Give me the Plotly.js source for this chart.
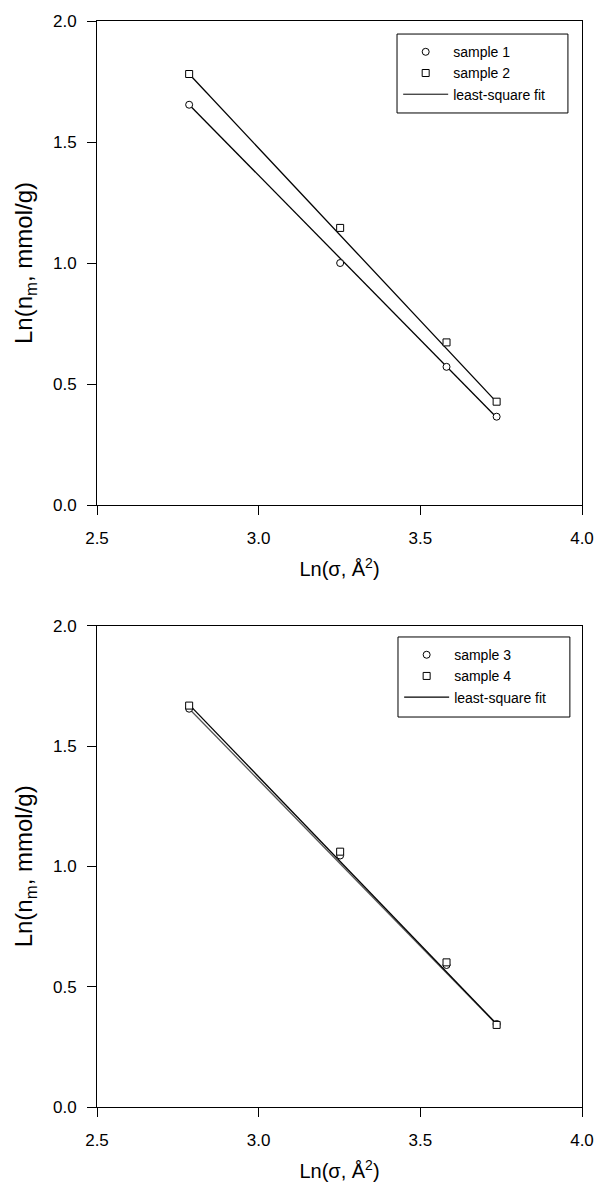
<!DOCTYPE html>
<html>
<head>
<meta charset="utf-8">
<script src="https://cdn.plot.ly/plotly-3.0.1.min.js"></script>
<style>html,body{margin:0;padding:0;background:#fff;}#chart{width:597px;height:1186px;}</style>
</head>
<body>
<div id="chart"></div>
<script>
// x values: Ln(sigma, Å^2)
const xVals = [2.785, 3.252, 3.581, 3.736];
// top panel
const sample1 = [1.654, 1.000, 0.571, 0.365];
const sample2 = [1.781, 1.145, 0.672, 0.427];
// bottom panel
const sample3 = [1.655, 1.045, 0.590, 0.345];
const sample4 = [1.668, 1.061, 0.601, 0.341];
// least-square fit line end points
const fitX = [2.785, 3.736];
const fit1 = [1.654, 0.362];
const fit2 = [1.781, 0.425];
const fit3 = [1.655, 0.343];
const fit4 = [1.672, 0.345];
const yTicks = [0.0, 0.5, 1.0, 1.5, 2.0];
const xTicks = [2.5, 3.0, 3.5, 4.0];

const fam = 'Liberation Sans, Arial, sans-serif';
const mk = (sym) => ({symbol: sym, size: 7, color: '#fff', line: {color: '#000', width: 1}});
const ln = {color: '#000', width: 1.3};

const traces = [
  {x: fitX, y: fit1, mode: 'lines', line: ln, showlegend: false, xaxis: 'x', yaxis: 'y', legend: 'legend'},
  {x: fitX, y: fit2, mode: 'lines', line: ln, showlegend: false, xaxis: 'x', yaxis: 'y', legend: 'legend'},
  {x: xVals, y: sample1, mode: 'markers', marker: mk('circle'), name: 'sample 1', xaxis: 'x', yaxis: 'y', legend: 'legend', legendrank: 1},
  {x: xVals, y: sample2, mode: 'markers', marker: mk('square'), name: 'sample 2', xaxis: 'x', yaxis: 'y', legend: 'legend', legendrank: 2},
  {x: [null], y: [null], mode: 'lines', line: {color: '#000', width: 1}, name: 'least-square fit', xaxis: 'x', yaxis: 'y', legend: 'legend', legendrank: 3},

  {x: fitX, y: fit3, mode: 'lines', line: {color: '#555', width: 1.3}, showlegend: false, xaxis: 'x2', yaxis: 'y2', legend: 'legend2'},
  {x: fitX, y: fit4, mode: 'lines', line: ln, showlegend: false, xaxis: 'x2', yaxis: 'y2', legend: 'legend2'},
  {x: xVals, y: sample3, mode: 'markers', marker: mk('circle'), name: 'sample 3', xaxis: 'x2', yaxis: 'y2', legend: 'legend2', legendrank: 1},
  {x: xVals, y: sample4, mode: 'markers', marker: mk('square'), name: 'sample 4', xaxis: 'x2', yaxis: 'y2', legend: 'legend2', legendrank: 2},
  {x: [null], y: [null], mode: 'lines', line: ln, name: 'least-square fit', xaxis: 'x2', yaxis: 'y2', legend: 'legend2', legendrank: 3}
];

const xAxisBase = {
  range: [2.5, 4.0], tickvals: xTicks, tickformat: '.1f', ticks: 'outside', ticklen: 9, tickwidth: 1, tickcolor: '#000',
  ticklabelstandoff: 9,
  showline: true, linecolor: '#000', linewidth: 1, mirror: true, showgrid: false, zeroline: false,
  tickfont: {family: fam, size: 17, color: '#000'},
  title: {text: 'Ln(σ, Å<sup>2</sup>)', font: {family: fam, size: 20, color: '#000'}, standoff: 14}
};
const yAxisBase = {
  range: [0, 2.0], tickvals: yTicks, tickformat: '.1f', ticks: 'outside', ticklen: 9, tickwidth: 1, tickcolor: '#000',
  ticklabelstandoff: 7,
  showline: true, linecolor: '#000', linewidth: 1, mirror: true, showgrid: false, zeroline: false,
  tickfont: {family: fam, size: 17, color: '#000'},
  title: {text: 'Ln(n<sub>m</sub>, mmol/g)', font: {family: fam, size: 24, color: '#000'}, standoff: 13}
};
const legendBase = {
  bgcolor: 'rgba(0,0,0,0)', borderwidth: 0, xanchor: 'left', yanchor: 'top',
  font: {family: fam, size: 14, color: '#000'}, itemwidth: 45, tracegroupgap: 0, traceorder: 'normal'
};

const boxStyle = {type: 'rect', xref: 'paper', yref: 'paper', line: {color: '#000', width: 1}, fillcolor: 'rgba(0,0,0,0)', layer: 'above'};

const layout = {
  width: 597, height: 1186,
  margin: {l: 97, r: 15, t: 21, b: 79},
  paper_bgcolor: '#fff', plot_bgcolor: '#fff',
  font: {family: fam, color: '#000'},
  xaxis: Object.assign({}, xAxisBase, {anchor: 'y', domain: [0, 1]}),
  yaxis: Object.assign({}, yAxisBase, {anchor: 'x', domain: [0.5543, 1]}),
  xaxis2: Object.assign({}, xAxisBase, {anchor: 'y2', domain: [0, 1]}),
  yaxis2: Object.assign({}, yAxisBase, {anchor: 'x2', domain: [0, 0.4432]}),
  legend: Object.assign({}, legendBase, {x: 0.621, y: 0.986}),
  legend2: Object.assign({}, legendBase, {x: 0.623, y: 0.4308}),
  shapes: [
    Object.assign({}, boxStyle, {x0: 0.6186, x1: 0.971, y0: 0.9153, y1: 0.988}),
    Object.assign({}, boxStyle, {x0: 0.6206, x1: 0.975, y0: 0.3591, y1: 0.4328})
  ],
  showlegend: true
};

Plotly.newPlot('chart', traces, layout, {staticPlot: true, displayModeBar: false});
</script>
</body>
</html>
